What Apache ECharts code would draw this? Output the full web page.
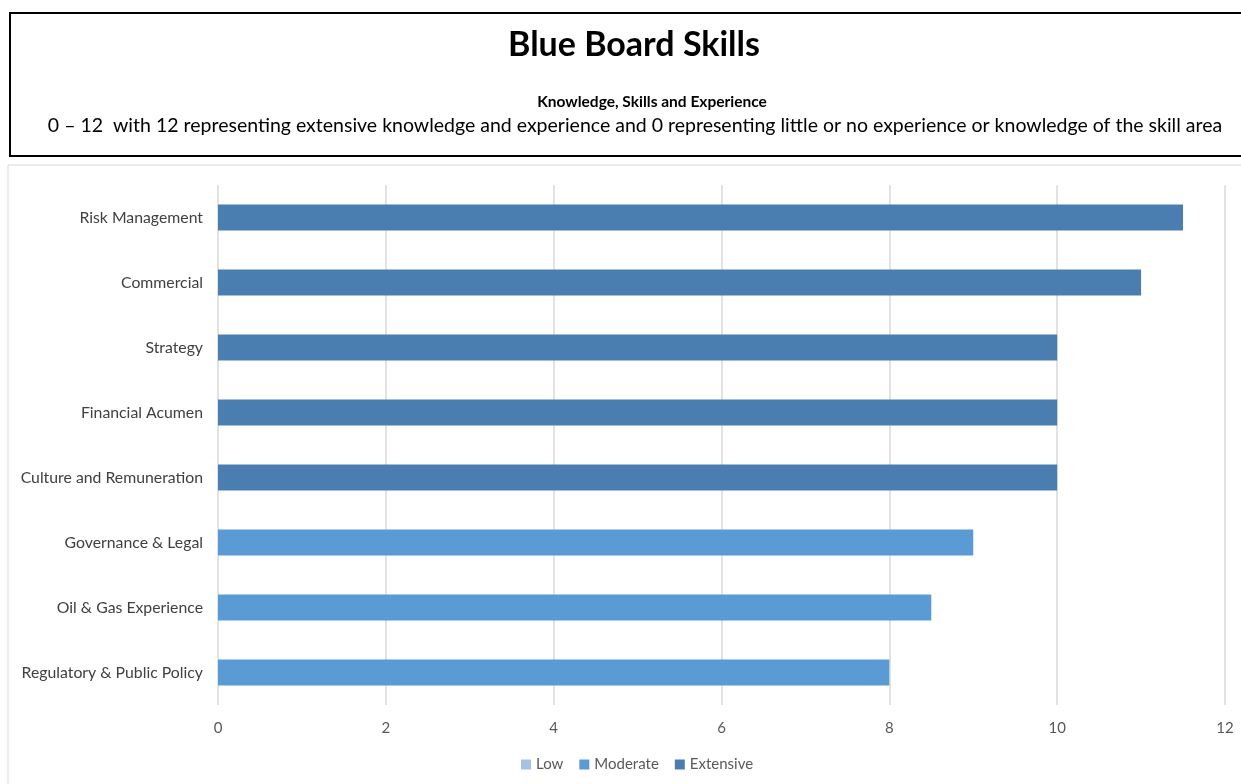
<!DOCTYPE html>
<html><head><meta charset="utf-8">
<script src="https://cdn.jsdelivr.net/npm/echarts@6/dist/echarts.min.js"></script>
<style>html,body{margin:0;padding:0;background:#fff}#c{width:1241px;height:784px}</style>
</head><body><div id="c"></div>
<script>
const categories = ["Risk Management","Commercial","Strategy","Financial Acumen","Culture and Remuneration","Governance & Legal","Oil & Gas Experience","Regulatory & Public Policy"];
const lowValues = [null,null,null,null,null,null,null,null];
const moderateValues = [null,null,null,null,null,9,8.5,8];
const extensiveValues = [11.5,11,10,10,10,null,null,null];
const seriesNames = ["Low","Moderate","Extensive"];
const colors = ["#a5c2e3","#5b9bd5","#4a7eb0"];
const xTicks = {min:0,max:12,interval:2};

const chart = echarts.init(document.getElementById('c'));
const FONT = 'Lato, "Open Sans", sans-serif';
const valuesBySeries = [lowValues, moderateValues, extensiveValues];
chart.setOption({
  animation:false,
  textStyle:{fontFamily:FONT},
  title:[
    {text:"Blue Board Skills",left:629,textAlign:'center',top:23,textStyle:{fontSize:34,fontWeight:'bold',color:'#000',fontFamily:FONT}},
    {text:"Knowledge, Skills and Experience",left:647,textAlign:'center',top:89,textStyle:{fontSize:15.5,fontWeight:'bold',color:'#000',fontFamily:FONT}},
    {text:"0 \u2013 12  with 12 representing extensive knowledge and experience and 0 representing little or no experience or knowledge of the skill area",left:630,textAlign:'center',top:111,textStyle:{fontSize:19.5,fontWeight:'normal',color:'#000',fontFamily:FONT}}
  ],
  graphic:[
    {type:'rect',shape:{x:10,y:13,width:1250,height:143},style:{fill:'none',stroke:'#000',lineWidth:2},z:-1},
    {type:'rect',shape:{x:8,y:165,width:1260,height:640},style:{fill:'none',stroke:'#d9d9d9',lineWidth:1},z:-1}
  ],
  legend:{data:seriesNames,bottom:7,left:516,itemWidth:10,itemHeight:10,itemGap:16,icon:'rect',
    textStyle:{color:'#595959',fontSize:15,fontFamily:FONT}},
  grid:{left:218,right:16,top:185,bottom:79},
  xAxis:{type:'value',min:xTicks.min,max:xTicks.max,interval:xTicks.interval,
    axisLine:{show:false},axisTick:{show:false},
    axisLabel:{color:'#595959',fontSize:15,margin:16,fontFamily:FONT},
    splitLine:{show:true,lineStyle:{color:'#d9d9d9',width:1.5}}},
  yAxis:{type:'category',data:categories,inverse:true,
    axisLine:{show:false},axisTick:{show:false},
    axisLabel:{color:'#404040',fontSize:15.8,margin:15,fontFamily:FONT}},
  series:seriesNames.map((n,i)=>({name:n,type:'bar',stack:'s',barWidth:26,
    itemStyle:{color:colors[i]},data:valuesBySeries[i]}))
});
</script></body></html>
